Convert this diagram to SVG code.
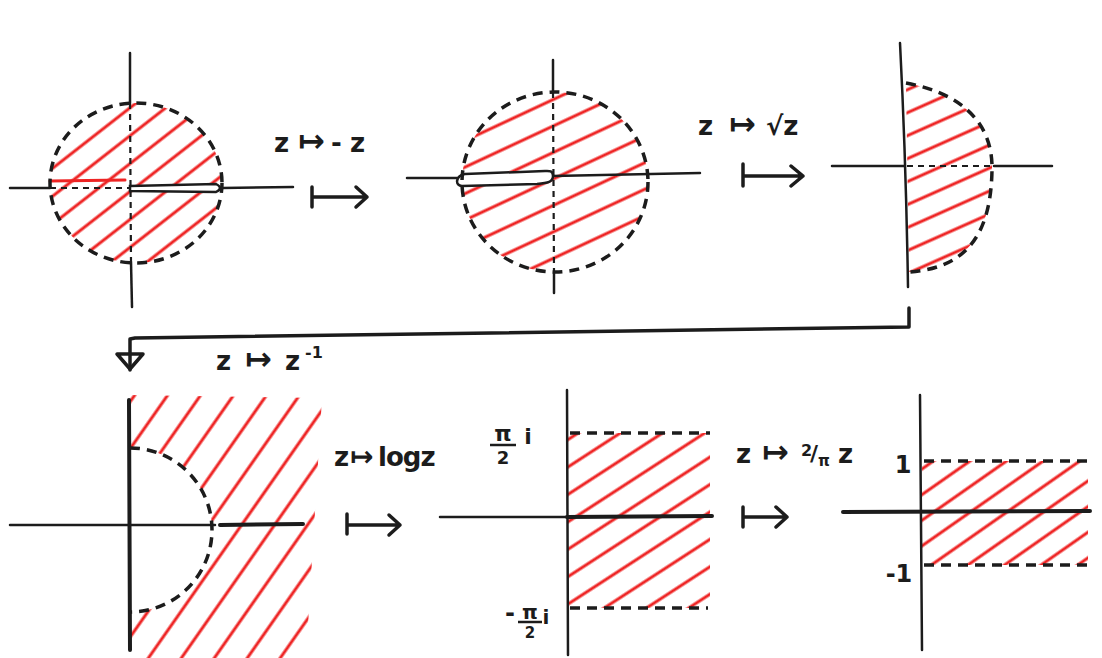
<svg xmlns="http://www.w3.org/2000/svg" width="1102" height="658" viewBox="0 0 1102 658">
<style>
.ax{stroke:#1c1c1c;stroke-width:2.5;fill:none;stroke-linecap:round}
.axb{stroke:#1c1c1c;stroke-width:4;fill:none;stroke-linecap:round}
.dsh{stroke:#1c1c1c;stroke-width:3.5;fill:none;stroke-dasharray:10 7}
.dshthin{stroke:#1c1c1c;stroke-width:2.2;fill:none;stroke-dasharray:6 5}
.hl{stroke:#ee2424;stroke-width:3;stroke-linecap:round}
.lbl{font-family:"DejaVu Sans",sans-serif;font-weight:bold;font-size:26px;fill:#1c1c1c}
.mt{font-size:32px}
.arr{stroke:#1c1c1c;stroke-width:3.5;fill:none;stroke-linecap:round;stroke-linejoin:round}
.slit{stroke:#1c1c1c;stroke-width:2.5;fill:#fff}
</style>
<defs>
<pattern id="hp1" patternUnits="userSpaceOnUse" width="40" height="22" patternTransform="rotate(-38)"><line x1="0" y1="11" x2="40" y2="11" class="hl"/></pattern>
<pattern id="hp2" patternUnits="userSpaceOnUse" width="40" height="24" patternTransform="rotate(-25)"><line x1="0" y1="12" x2="40" y2="12" class="hl"/></pattern>
<pattern id="hp3" patternUnits="userSpaceOnUse" width="40" height="21" patternTransform="rotate(-24)"><line x1="0" y1="10" x2="40" y2="10" class="hl"/></pattern>
<pattern id="hp4" patternUnits="userSpaceOnUse" width="40" height="27" patternTransform="rotate(-55)"><line x1="0" y1="13" x2="40" y2="13" class="hl"/></pattern>
<pattern id="hp5" patternUnits="userSpaceOnUse" width="40" height="23" patternTransform="rotate(-33)"><line x1="0" y1="11" x2="40" y2="11" class="hl"/></pattern>
<pattern id="hp6" patternUnits="userSpaceOnUse" width="40" height="21" patternTransform="rotate(-35)"><line x1="0" y1="10" x2="40" y2="10" class="hl"/></pattern>
</defs>
<rect width="1102" height="658" fill="#fff"/>

<g id="panel1">
<ellipse cx="136" cy="183" rx="86" ry="80" fill="url(#hp1)"/>
<line x1="50" y1="181" x2="125" y2="180" class="hl"/>
<line x1="130" y1="53" x2="130" y2="103" class="ax"/>
<line x1="131" y1="262" x2="132" y2="307" class="ax"/>
<line x1="130" y1="103" x2="131" y2="262" class="dshthin"/>
<line x1="10" y1="188" x2="50" y2="188" class="ax"/>
<line x1="50" y1="188" x2="130" y2="188" class="dshthin"/>
<line x1="222" y1="188" x2="293" y2="187" class="ax"/>
<path d="M130,186 L216,184 Q224,188 216,192 L130,191 Z" class="slit"/>
<ellipse cx="136" cy="183" rx="86" ry="80" class="dsh"/>
</g>

<g id="panel2">
<ellipse cx="555" cy="182" rx="93" ry="90" fill="url(#hp2)"/>
<line x1="553" y1="60" x2="553" y2="92" class="ax"/>
<line x1="554" y1="273" x2="554" y2="293" class="ax"/>
<line x1="553" y1="92" x2="554" y2="273" class="dshthin"/>
<line x1="407" y1="178" x2="460" y2="178" class="ax"/>
<line x1="553" y1="176" x2="700" y2="173" class="ax"/>
<path d="M553,176 C553,170 548,171 545,171 L465,174 C455,176 455,186 462,186 L537,184 C548,183 553,182 553,176 Z" class="slit"/>
<ellipse cx="555" cy="182" rx="93" ry="90" class="dsh"/>
</g>

<g id="panel3">
<path d="M906,83 C970,95 993,130 992,170 C991,230 970,268 909,272 Z" fill="url(#hp3)"/>
<path d="M900,43 Q906,160 908,287" class="ax"/>
<line x1="832" y1="166" x2="904" y2="166" class="ax"/>
<line x1="907" y1="166" x2="990" y2="166" class="dshthin"/>
<line x1="994" y1="166" x2="1052" y2="166" class="ax"/>
<path d="M906,83 C970,95 993,130 992,170 C991,230 970,268 909,272" class="dsh"/>
</g>

<g id="panel4">
<path d="M130,395 L322,398 L306,658 L130,658 Z M130,448 A82 82 0 0 1 130,612 Z" fill="url(#hp4)" fill-rule="evenodd"/>
<line x1="129" y1="400" x2="130" y2="650" class="axb"/>
<line x1="10" y1="525" x2="215" y2="525" class="ax"/>
<line x1="220" y1="525" x2="303" y2="524" class="axb"/>
<path d="M130,448 A82 82 0 0 1 130,612" class="dsh"/>
</g>

<g id="panel5">
<rect x="568" y="433" width="142" height="175" fill="url(#hp5)"/>
<line x1="567" y1="390" x2="568" y2="655" class="ax"/>
<line x1="440" y1="517" x2="567" y2="517" class="ax"/>
<line x1="567" y1="517" x2="712" y2="516" class="axb"/>
<line x1="570" y1="433" x2="710" y2="433" class="dsh"/>
<line x1="570" y1="608" x2="708" y2="608" class="dsh"/>
<text x="503" y="441" text-anchor="middle" class="lbl" style="font-size:22px">π</text>
<line x1="490" y1="445" x2="516" y2="445" stroke="#1c1c1c" stroke-width="2.5"/>
<text x="503" y="464" text-anchor="middle" class="lbl" style="font-size:18px">2</text>
<text x="528" y="444" text-anchor="middle" class="lbl" style="font-size:22px">i</text>
<text x="510" y="621" text-anchor="middle" class="lbl" style="font-size:24px">-</text>
<text x="530" y="619" text-anchor="middle" class="lbl" style="font-size:20px">π</text>
<line x1="518" y1="622" x2="542" y2="622" stroke="#1c1c1c" stroke-width="2.5"/>
<text x="530" y="638" text-anchor="middle" class="lbl" style="font-size:15px">2</text>
<text x="546" y="624" text-anchor="middle" class="lbl" style="font-size:20px">i</text>
</g>

<g id="panel6">
<rect x="922" y="461" width="166" height="104" fill="url(#hp6)"/>
<line x1="920" y1="395" x2="922" y2="650" class="ax"/>
<line x1="843" y1="512" x2="1090" y2="511" class="axb"/>
<line x1="924" y1="461" x2="1090" y2="461" class="dsh"/>
<line x1="924" y1="565" x2="1090" y2="565" class="dsh"/>
<text x="903" y="473" text-anchor="middle" class="lbl" style="font-size:24px">1</text>
<text x="899" y="582" text-anchor="middle" class="lbl" style="font-size:24px">-1</text>
</g>

<g id="labels">
<text y="152" class="lbl"><tspan x="274">z</tspan><tspan x="298" class="mt">↦</tspan><tspan x="331">-</tspan><tspan x="350">z</tspan></text>
<text y="135" class="lbl"><tspan x="698">z</tspan><tspan x="729" class="mt">↦</tspan><tspan x="766">√z</tspan></text>
<text y="370" class="lbl"><tspan x="216">z</tspan><tspan x="245" class="mt">↦</tspan><tspan x="285">z</tspan><tspan x="305" dy="-12" style="font-size:16px">-1</tspan></text>
<text y="466" class="lbl"><tspan x="334">z</tspan><tspan x="350" class="mt" style="font-size:28px">↦</tspan><tspan x="378" letter-spacing="-1">logz</tspan></text>
<text y="463" class="lbl"><tspan x="736">z</tspan><tspan x="762" class="mt">↦</tspan><tspan x="801" dy="-7" style="font-size:16px">2</tspan><tspan x="810" dy="5" style="font-size:22px">/</tspan><tspan x="818" dy="5" style="font-size:15px">π</tspan><tspan x="838" dy="-3">z</tspan></text>
</g>

<g id="connectors">
<path d="M909,308 L909,327 L135,338 L130,339 L130,370" class="arr"/>
<path d="M117,354 L143,354 L130,369 Z" class="arr"/>
<path d="M312,187 V207 M312,197 H367 M356,187 L367,197 L356,207" class="arr"/>
<path d="M743,164 V186 M743,176 H803 M791,166 L803,176 L791,186" class="arr"/>
<path d="M347,514 V534 M347,525 H400 M389,515 L400,525 L389,535" class="arr"/>
<path d="M743,507 V527 M743,517 H787 M776,507 L787,517 L776,527" class="arr"/>
</g>
</svg>
